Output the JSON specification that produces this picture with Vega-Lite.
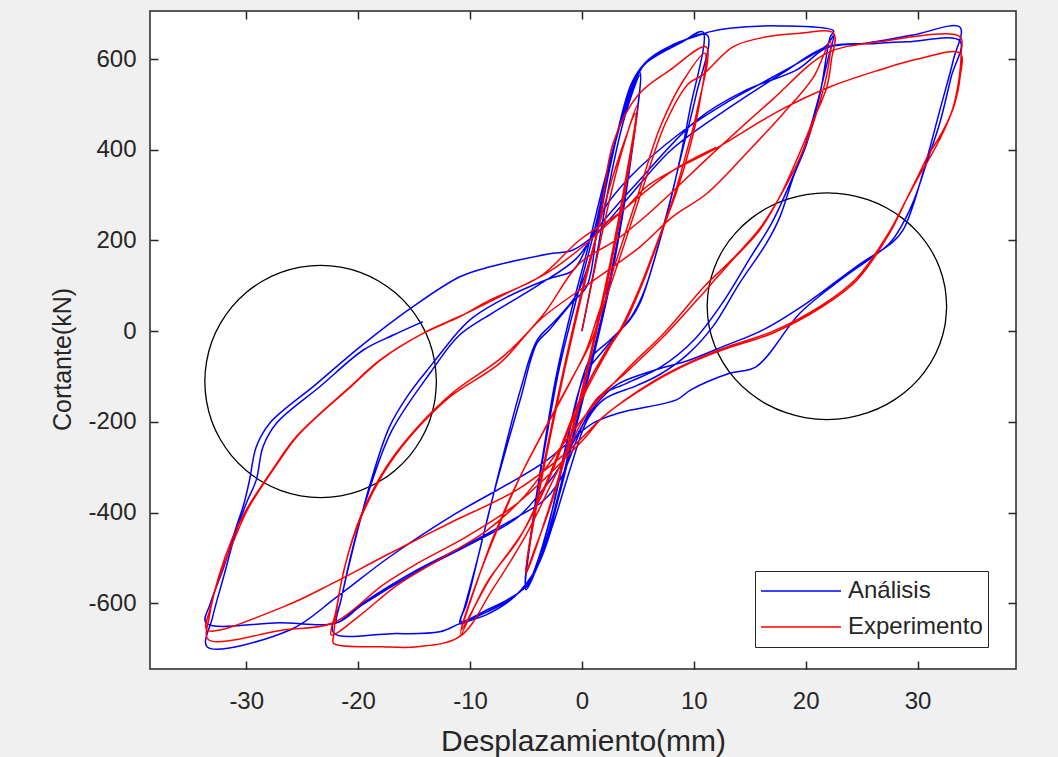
{
"$schema": "https://vega.github.io/schema/vega-lite/v6.json",
"width": 866, "height": 658,
"autosize": {"type": "none"},
"padding": {"left": 150, "top": 11, "right": 42, "bottom": 88},
"background": "#f0f0f0",
"config": {
 "view": {"fill": "white", "stroke": "#262626", "strokeWidth": 1.5},
 "font": "Liberation Sans",
 "axis": {"grid": false, "domain": false, "tickSize": 8, "offset": -8, "tickColor": "#262626", "tickWidth": 1.5, "labelColor": "#262626", "titleColor": "#262626", "labelFontSize": 24, "titleFontSize": 30, "titleFontWeight": "normal", "labelFont": "Liberation Sans", "titleFont": "Liberation Sans", "labelExpr": "replace(datum.label, '\u2212', '-')"}
},
"datasets": {
 "circ": [
  {"c":1,"x":-13.00,"y":-111},{"c":1,"x":-13.16,"y":-66.6},{"c":1,"x":-13.62,"y":-23.4},{"c":1,"x":-14.39,"y":17},{"c":1,"x":-15.42,"y":53.6},{"c":1,"x":-16.70,"y":85.1},{"c":1,"x":-18.18,"y":110.7},{"c":1,"x":-19.81,"y":129.6},{"c":1,"x":-21.55,"y":141.1},{"c":1,"x":-23.35,"y":145},{"c":1,"x":-25.15,"y":141.1},{"c":1,"x":-26.89,"y":129.6},{"c":1,"x":-28.53,"y":110.7},{"c":1,"x":-30.00,"y":85.1},{"c":1,"x":-31.28,"y":53.6},{"c":1,"x":-32.31,"y":17},{"c":1,"x":-33.08,"y":-23.4},{"c":1,"x":-33.54,"y":-66.6},{"c":1,"x":-33.70,"y":-111},{"c":1,"x":-33.54,"y":-155.4},{"c":1,"x":-33.08,"y":-198.6},{"c":1,"x":-32.31,"y":-239},{"c":1,"x":-31.28,"y":-275.6},{"c":1,"x":-30.00,"y":-307.1},{"c":1,"x":-28.53,"y":-332.7},{"c":1,"x":-26.89,"y":-351.6},{"c":1,"x":-25.15,"y":-363.1},{"c":1,"x":-23.35,"y":-367},{"c":1,"x":-21.55,"y":-363.1},{"c":1,"x":-19.81,"y":-351.6},{"c":1,"x":-18.18,"y":-332.7},{"c":1,"x":-16.70,"y":-307.1},{"c":1,"x":-15.42,"y":-275.6},{"c":1,"x":-14.39,"y":-239},{"c":1,"x":-13.62,"y":-198.6},{"c":1,"x":-13.16,"y":-155.4},{"c":1,"x":-13.00,"y":-111},
  {"c":2,"x":32.6,"y":55},{"c":2,"x":32.44,"y":98.4},{"c":2,"x":31.96,"y":140.5},{"c":2,"x":31.17,"y":180},{"c":2,"x":30.10,"y":215.7},{"c":2,"x":28.78,"y":246.5},{"c":2,"x":27.25,"y":271.5},{"c":2,"x":25.56,"y":289.9},{"c":2,"x":23.76,"y":301.2},{"c":2,"x":21.9,"y":305},{"c":2,"x":20.04,"y":301.2},{"c":2,"x":18.24,"y":289.9},{"c":2,"x":16.55,"y":271.5},{"c":2,"x":15.02,"y":246.5},{"c":2,"x":13.70,"y":215.7},{"c":2,"x":12.63,"y":180},{"c":2,"x":11.85,"y":140.5},{"c":2,"x":11.36,"y":98.4},{"c":2,"x":11.2,"y":55},{"c":2,"x":11.36,"y":11.6},{"c":2,"x":11.85,"y":-30.5},{"c":2,"x":12.63,"y":-70},{"c":2,"x":13.70,"y":-105.7},{"c":2,"x":15.02,"y":-136.5},{"c":2,"x":16.55,"y":-161.5},{"c":2,"x":18.24,"y":-179.9},{"c":2,"x":20.04,"y":-191.2},{"c":2,"x":21.9,"y":-195},{"c":2,"x":23.76,"y":-191.2},{"c":2,"x":25.56,"y":-179.9},{"c":2,"x":27.25,"y":-161.5},{"c":2,"x":28.78,"y":-136.5},{"c":2,"x":30.10,"y":-105.7},{"c":2,"x":31.17,"y":-70},{"c":2,"x":31.96,"y":-30.5},{"c":2,"x":32.44,"y":11.6},{"c":2,"x":32.6,"y":55}
 ],
 "curves": [
  {"s":"Análisis","x":0,"y":0},{"s":"Análisis","x":1.2,"y":150},{"s":"Análisis","x":2.5,"y":330},{"s":"Análisis","x":3.8,"y":470},{"s":"Análisis","x":5.2,"y":565},
  {"s":"Análisis","x":4.6,"y":420},{"s":"Análisis","x":3.6,"y":250},{"s":"Análisis","x":2.4,"y":90},{"s":"Análisis","x":1,"y":-60},{"s":"Análisis","x":-0.5,"y":-210},{"s":"Análisis","x":-2,"y":-360},{"s":"Análisis","x":-3.5,"y":-490},{"s":"Análisis","x":-5,"y":-565},
  {"s":"Análisis","x":-4.4,"y":-420},{"s":"Análisis","x":-3.4,"y":-260},{"s":"Análisis","x":-2.3,"y":-100},{"s":"Análisis","x":-1,"y":40},{"s":"Análisis","x":0.5,"y":180},{"s":"Análisis","x":2,"y":330},{"s":"Análisis","x":3.5,"y":460},{"s":"Análisis","x":5.2,"y":570},
  {"s":"Análisis","x":4.5,"y":400},{"s":"Análisis","x":3.4,"y":230},{"s":"Análisis","x":2.2,"y":80},{"s":"Análisis","x":0.8,"y":-70},{"s":"Análisis","x":-0.7,"y":-220},{"s":"Análisis","x":-2.2,"y":-370},{"s":"Análisis","x":-3.7,"y":-500},{"s":"Análisis","x":-5,"y":-570},
  {"s":"Análisis","x":-4.3,"y":-410},{"s":"Análisis","x":-3.2,"y":-240},{"s":"Análisis","x":-2,"y":-80},{"s":"Análisis","x":-0.6,"y":60},{"s":"Análisis","x":1,"y":210},{"s":"Análisis","x":2.5,"y":370},{"s":"Análisis","x":4,"y":500},{"s":"Análisis","x":5.5,"y":585},
  {"s":"Análisis","x":7,"y":612},{"s":"Análisis","x":9,"y":638},{"s":"Análisis","x":10.8,"y":660},
  {"s":"Análisis","x":9.65,"y":488},{"s":"Análisis","x":8.76,"y":378},{"s":"Análisis","x":7.4,"y":238},{"s":"Análisis","x":5.2,"y":62},{"s":"Análisis","x":4.3,"y":25},{"s":"Análisis","x":2.5,"y":-20},{"s":"Análisis","x":0.7,"y":-63},{"s":"Análisis","x":-0.8,"y":-189},{"s":"Análisis","x":-2.5,"y":-380},{"s":"Análisis","x":-4,"y":-510},{"s":"Análisis","x":-4.9,"y":-560},{"s":"Análisis","x":-7,"y":-600},{"s":"Análisis","x":-9,"y":-625},{"s":"Análisis","x":-10.9,"y":-645},
  {"s":"Análisis","x":-10.5,"y":-610},{"s":"Análisis","x":-9.3,"y":-500},{"s":"Análisis","x":-7.95,"y":-365},{"s":"Análisis","x":-5.5,"y":-150},{"s":"Análisis","x":-4,"y":-26},{"s":"Análisis","x":-2.9,"y":3},{"s":"Análisis","x":-1,"y":60},{"s":"Análisis","x":0.45,"y":100},{"s":"Análisis","x":1.5,"y":250},{"s":"Análisis","x":3,"y":420},{"s":"Análisis","x":4.5,"y":550},{"s":"Análisis","x":6,"y":600},{"s":"Análisis","x":8.5,"y":635},{"s":"Análisis","x":11.2,"y":653},
  {"s":"Análisis","x":10.2,"y":520},{"s":"Análisis","x":9,"y":400},{"s":"Análisis","x":7.6,"y":260},{"s":"Análisis","x":5.6,"y":90},{"s":"Análisis","x":4.5,"y":35},{"s":"Análisis","x":2,"y":-40},{"s":"Análisis","x":0.2,"y":-100},{"s":"Análisis","x":-1.5,"y":-260},{"s":"Análisis","x":-3,"y":-430},{"s":"Análisis","x":-4.7,"y":-555},{"s":"Análisis","x":-6.5,"y":-590},{"s":"Análisis","x":-8.5,"y":-615},{"s":"Análisis","x":-10.8,"y":-640},
  {"s":"Análisis","x":-10.3,"y":-600},{"s":"Análisis","x":-9,"y":-470},{"s":"Análisis","x":-7.5,"y":-320},{"s":"Análisis","x":-5.5,"y":-130},{"s":"Análisis","x":-4,"y":-20},{"s":"Análisis","x":-2.5,"y":20},{"s":"Análisis","x":-0.5,"y":80},{"s":"Análisis","x":1,"y":180},{"s":"Análisis","x":2.5,"y":360},{"s":"Análisis","x":4,"y":510},{"s":"Análisis","x":5.5,"y":585},{"s":"Análisis","x":8,"y":630},{"s":"Análisis","x":10.8,"y":655},{"s":"Análisis","x":11.4,"y":660},{"s":"Análisis","x":13.2,"y":668},{"s":"Análisis","x":17.7,"y":673},{"s":"Análisis","x":22.5,"y":662},
  {"s":"Análisis","x":22.2,"y":649},{"s":"Análisis","x":21.3,"y":525},{"s":"Análisis","x":20.1,"y":414},{"s":"Análisis","x":18.9,"y":340},{"s":"Análisis","x":17.7,"y":252},{"s":"Análisis","x":16.5,"y":194},{"s":"Análisis","x":14.1,"y":106},{"s":"Análisis","x":11.7,"y":10},{"s":"Análisis","x":9.5,"y":-50},{"s":"Análisis","x":7,"y":-95},{"s":"Análisis","x":4.9,"y":-120},{"s":"Análisis","x":2,"y":-150},{"s":"Análisis","x":0.5,"y":-195},{"s":"Análisis","x":-1,"y":-300},{"s":"Análisis","x":-2.5,"y":-420},{"s":"Análisis","x":-4,"y":-520},{"s":"Análisis","x":-6,"y":-585},{"s":"Análisis","x":-8.5,"y":-625},{"s":"Análisis","x":-10.9,"y":-645},{"s":"Análisis","x":-12.7,"y":-663},{"s":"Análisis","x":-17,"y":-667},{"s":"Análisis","x":-22.2,"y":-665},
  {"s":"Análisis","x":-21.6,"y":-600},{"s":"Análisis","x":-20.7,"y":-504},{"s":"Análisis","x":-18.9,"y":-335},{"s":"Análisis","x":-17.2,"y":-211},{"s":"Análisis","x":-15.5,"y":-140},{"s":"Análisis","x":-13.3,"y":-70},{"s":"Análisis","x":-10.9,"y":3},{"s":"Análisis","x":-9.7,"y":31},{"s":"Análisis","x":-6.7,"y":75},{"s":"Análisis","x":-3,"y":115},{"s":"Análisis","x":-0.8,"y":134},{"s":"Análisis","x":0.5,"y":190},{"s":"Análisis","x":2,"y":270},{"s":"Análisis","x":4.3,"y":340},{"s":"Análisis","x":8.8,"y":437},{"s":"Análisis","x":13,"y":505},{"s":"Análisis","x":17.1,"y":561},{"s":"Análisis","x":21.9,"y":631},{"s":"Análisis","x":22.5,"y":652},
  {"s":"Análisis","x":22,"y":600},{"s":"Análisis","x":21,"y":500},{"s":"Análisis","x":19.8,"y":400},{"s":"Análisis","x":18.5,"y":320},{"s":"Análisis","x":17,"y":240},{"s":"Análisis","x":15,"y":160},{"s":"Análisis","x":12.5,"y":60},{"s":"Análisis","x":10,"y":-20},{"s":"Análisis","x":7,"y":-80},{"s":"Análisis","x":4,"y":-115},{"s":"Análisis","x":1.5,"y":-145},{"s":"Análisis","x":0.2,"y":-200},{"s":"Análisis","x":-2,"y":-330},{"s":"Análisis","x":-3.5,"y":-375},{"s":"Análisis","x":-5.8,"y":-410},{"s":"Análisis","x":-10,"y":-467},{"s":"Análisis","x":-14.7,"y":-526},{"s":"Análisis","x":-19.6,"y":-600},{"s":"Análisis","x":-21.9,"y":-642},
  {"s":"Análisis","x":-21.5,"y":-590},{"s":"Análisis","x":-20.5,"y":-480},{"s":"Análisis","x":-19,"y":-350},{"s":"Análisis","x":-17,"y":-220},{"s":"Análisis","x":-13.5,"y":-90},{"s":"Análisis","x":-11,"y":-10},{"s":"Análisis","x":-8,"y":40},{"s":"Análisis","x":-4,"y":100},{"s":"Análisis","x":-0.5,"y":160},{"s":"Análisis","x":1.5,"y":230},{"s":"Análisis","x":4.9,"y":326},{"s":"Análisis","x":10.3,"y":466},{"s":"Análisis","x":14.7,"y":532},{"s":"Análisis","x":19.2,"y":576},{"s":"Análisis","x":21.9,"y":625},{"s":"Análisis","x":25.4,"y":635},{"s":"Análisis","x":29.6,"y":653},{"s":"Análisis","x":33.8,"y":670},
  {"s":"Análisis","x":33.2,"y":598},{"s":"Análisis","x":32,"y":488},{"s":"Análisis","x":30.8,"y":377},{"s":"Análisis","x":29.5,"y":270},{"s":"Análisis","x":28.7,"y":223},{"s":"Análisis","x":27.8,"y":197},{"s":"Análisis","x":24.5,"y":142},{"s":"Análisis","x":20.1,"y":62},{"s":"Análisis","x":16.2,"y":3},{"s":"Análisis","x":12.6,"y":-34},{"s":"Análisis","x":9.7,"y":-63},{"s":"Análisis","x":6,"y":-90},{"s":"Análisis","x":3,"y":-120},{"s":"Análisis","x":1,"y":-170},{"s":"Análisis","x":0,"y":-210},{"s":"Análisis","x":-2,"y":-300},{"s":"Análisis","x":-4,"y":-365},{"s":"Análisis","x":-5.8,"y":-412},{"s":"Análisis","x":-10,"y":-470},{"s":"Análisis","x":-14.7,"y":-530},{"s":"Análisis","x":-19.6,"y":-603},{"s":"Análisis","x":-21.9,"y":-643},{"s":"Análisis","x":-27,"y":-643},{"s":"Análisis","x":-33.6,"y":-643},
  {"s":"Análisis","x":-33.2,"y":-600},{"s":"Análisis","x":-32,"y":-520},{"s":"Análisis","x":-31,"y":-440},{"s":"Análisis","x":-30.2,"y":-380},{"s":"Análisis","x":-29.7,"y":-328},{"s":"Análisis","x":-29.1,"y":-255},{"s":"Análisis","x":-27.9,"y":-203},{"s":"Análisis","x":-23.8,"y":-118},{"s":"Análisis","x":-19.8,"y":-34},{"s":"Análisis","x":-15.1,"y":54},{"s":"Análisis","x":-10.9,"y":120},{"s":"Análisis","x":-8.2,"y":142},{"s":"Análisis","x":-3,"y":170},{"s":"Análisis","x":-0.8,"y":179},{"s":"Análisis","x":1.3,"y":216},{"s":"Análisis","x":4,"y":290},{"s":"Análisis","x":8,"y":400},{"s":"Análisis","x":13,"y":490},{"s":"Análisis","x":18,"y":570},{"s":"Análisis","x":21.9,"y":627},{"s":"Análisis","x":26,"y":634},{"s":"Análisis","x":29.1,"y":638},{"s":"Análisis","x":33.8,"y":640},
  {"s":"Análisis","x":33,"y":560},{"s":"Análisis","x":32,"y":460},{"s":"Análisis","x":30.8,"y":370},{"s":"Análisis","x":29.7,"y":290},{"s":"Análisis","x":28.7,"y":238},{"s":"Análisis","x":27.5,"y":194},{"s":"Análisis","x":23.1,"y":113},{"s":"Análisis","x":19.5,"y":40},{"s":"Análisis","x":15.6,"y":-78},{"s":"Análisis","x":13.2,"y":-93},{"s":"Análisis","x":9.7,"y":-130},{"s":"Análisis","x":8.5,"y":-151},{"s":"Análisis","x":3.4,"y":-180},{"s":"Análisis","x":1,"y":-203},{"s":"Análisis","x":-3.5,"y":-291},{"s":"Análisis","x":-11.8,"y":-410},{"s":"Análisis","x":-17.2,"y":-498},{"s":"Análisis","x":-21.9,"y":-586},{"s":"Análisis","x":-26.1,"y":-659},{"s":"Análisis","x":-33.5,"y":-696},
  {"s":"Análisis","x":-33,"y":-630},{"s":"Análisis","x":-32,"y":-540},{"s":"Análisis","x":-31,"y":-450},{"s":"Análisis","x":-30,"y":-380},{"s":"Análisis","x":-29.1,"y":-328},{"s":"Análisis","x":-28.5,"y":-255},{"s":"Análisis","x":-27.3,"y":-203},{"s":"Análisis","x":-23.4,"y":-122},{"s":"Análisis","x":-19.5,"y":-41},{"s":"Análisis","x":-16.8,"y":-8},{"s":"Análisis","x":-14.2,"y":21},

  {"s":"Experimento","x":0,"y":0},{"s":"Experimento","x":1,"y":120},{"s":"Experimento","x":2.2,"y":260},{"s":"Experimento","x":3.5,"y":390},{"s":"Experimento","x":5,"y":500},
  {"s":"Experimento","x":4,"y":330},{"s":"Experimento","x":2.8,"y":170},{"s":"Experimento","x":1.5,"y":20},{"s":"Experimento","x":0,"y":-140},{"s":"Experimento","x":-1.5,"y":-280},{"s":"Experimento","x":-3,"y":-400},{"s":"Experimento","x":-4.2,"y":-480},{"s":"Experimento","x":-5,"y":-530},
  {"s":"Experimento","x":-4,"y":-370},{"s":"Experimento","x":-2.8,"y":-220},{"s":"Experimento","x":-1.5,"y":-70},{"s":"Experimento","x":0,"y":90},{"s":"Experimento","x":1.5,"y":230},{"s":"Experimento","x":3,"y":360},{"s":"Experimento","x":4.8,"y":480},
  {"s":"Experimento","x":3.8,"y":320},{"s":"Experimento","x":2.6,"y":160},{"s":"Experimento","x":1.3,"y":10},{"s":"Experimento","x":-0.2,"y":-150},{"s":"Experimento","x":-1.7,"y":-290},{"s":"Experimento","x":-3.2,"y":-410},{"s":"Experimento","x":-5,"y":-535},
  {"s":"Experimento","x":-4,"y":-380},{"s":"Experimento","x":-2.8,"y":-230},{"s":"Experimento","x":-1.5,"y":-80},{"s":"Experimento","x":0,"y":80},{"s":"Experimento","x":1.5,"y":230},{"s":"Experimento","x":2.8,"y":415},{"s":"Experimento","x":5,"y":520},{"s":"Experimento","x":7.9,"y":576},{"s":"Experimento","x":11.1,"y":627},
  {"s":"Experimento","x":10.3,"y":487},{"s":"Experimento","x":9.4,"y":399},{"s":"Experimento","x":8.2,"y":296},{"s":"Experimento","x":6.7,"y":194},{"s":"Experimento","x":5.2,"y":98},{"s":"Experimento","x":3.4,"y":3},{"s":"Experimento","x":2.2,"y":-41},{"s":"Experimento","x":-0.2,"y":-152},{"s":"Experimento","x":-2,"y":-262},{"s":"Experimento","x":-3.2,"y":-335},{"s":"Experimento","x":-5.5,"y":-453},{"s":"Experimento","x":-8.5,"y":-555},{"s":"Experimento","x":-10.9,"y":-673},
  {"s":"Experimento","x":-9.4,"y":-555},{"s":"Experimento","x":-7.9,"y":-453},{"s":"Experimento","x":-5.8,"y":-335},{"s":"Experimento","x":-3.5,"y":-225},{"s":"Experimento","x":-1.1,"y":-115},{"s":"Experimento","x":0.4,"y":-41},{"s":"Experimento","x":1.5,"y":40},{"s":"Experimento","x":3,"y":150},{"s":"Experimento","x":5,"y":300},{"s":"Experimento","x":7,"y":450},{"s":"Experimento","x":9,"y":550},{"s":"Experimento","x":11,"y":613},
  {"s":"Experimento","x":10.5,"y":500},{"s":"Experimento","x":9.7,"y":410},{"s":"Experimento","x":8.5,"y":310},{"s":"Experimento","x":7,"y":210},{"s":"Experimento","x":5.5,"y":110},{"s":"Experimento","x":3.8,"y":15},{"s":"Experimento","x":2.5,"y":-35},{"s":"Experimento","x":0.2,"y":-140},{"s":"Experimento","x":-1.7,"y":-250},{"s":"Experimento","x":-3,"y":-330},{"s":"Experimento","x":-5.2,"y":-440},{"s":"Experimento","x":-8.2,"y":-545},{"s":"Experimento","x":-10.8,"y":-660},
  {"s":"Experimento","x":-9.2,"y":-540},{"s":"Experimento","x":-7.6,"y":-440},{"s":"Experimento","x":-5.5,"y":-320},{"s":"Experimento","x":-3.2,"y":-210},{"s":"Experimento","x":-0.8,"y":-100},{"s":"Experimento","x":0.7,"y":-30},{"s":"Experimento","x":2,"y":60},{"s":"Experimento","x":3.5,"y":170},{"s":"Experimento","x":5.5,"y":320},{"s":"Experimento","x":7.5,"y":460},{"s":"Experimento","x":9.5,"y":545},{"s":"Experimento","x":10.8,"y":565},{"s":"Experimento","x":13.5,"y":627},{"s":"Experimento","x":16.5,"y":649},{"s":"Experimento","x":19.5,"y":657},{"s":"Experimento","x":22.5,"y":657},
  {"s":"Experimento","x":22.3,"y":598},{"s":"Experimento","x":21.9,"y":539},{"s":"Experimento","x":20.7,"y":466},{"s":"Experimento","x":19.2,"y":378},{"s":"Experimento","x":17.7,"y":297},{"s":"Experimento","x":15.9,"y":223},{"s":"Experimento","x":13.2,"y":150},{"s":"Experimento","x":11.1,"y":91},{"s":"Experimento","x":7.3,"y":-12},{"s":"Experimento","x":4,"y":-90},{"s":"Experimento","x":1,"y":-160},{"s":"Experimento","x":-2,"y":-300},{"s":"Experimento","x":-5,"y":-450},{"s":"Experimento","x":-8,"y":-570},{"s":"Experimento","x":-10.9,"y":-673},{"s":"Experimento","x":-14.7,"y":-696},{"s":"Experimento","x":-17.8,"y":-696},{"s":"Experimento","x":-22.2,"y":-688},
  {"s":"Experimento","x":-22.2,"y":-673},{"s":"Experimento","x":-21.4,"y":-542},{"s":"Experimento","x":-20.1,"y":-433},{"s":"Experimento","x":-17.8,"y":-316},{"s":"Experimento","x":-15.4,"y":-234},{"s":"Experimento","x":-11.8,"y":-145},{"s":"Experimento","x":-7.3,"y":-70},{"s":"Experimento","x":-3.75,"y":25},{"s":"Experimento","x":0.7,"y":106},{"s":"Experimento","x":5.2,"y":186},{"s":"Experimento","x":8.1,"y":252},{"s":"Experimento","x":11.2,"y":304},{"s":"Experimento","x":15,"y":400},{"s":"Experimento","x":18,"y":480},{"s":"Experimento","x":20.7,"y":560},{"s":"Experimento","x":22.2,"y":640},
  {"s":"Experimento","x":22,"y":580},{"s":"Experimento","x":21.2,"y":500},{"s":"Experimento","x":19.8,"y":400},{"s":"Experimento","x":18,"y":310},{"s":"Experimento","x":16,"y":230},{"s":"Experimento","x":13.5,"y":160},{"s":"Experimento","x":11,"y":100},{"s":"Experimento","x":7.5,"y":0},{"s":"Experimento","x":4,"y":-85},{"s":"Experimento","x":1,"y":-165},{"s":"Experimento","x":-2,"y":-260},{"s":"Experimento","x":-5,"y":-360},{"s":"Experimento","x":-8.5,"y":-440},{"s":"Experimento","x":-12.5,"y":-500},{"s":"Experimento","x":-16.5,"y":-560},{"s":"Experimento","x":-20,"y":-630},{"s":"Experimento","x":-22.4,"y":-670},
  {"s":"Experimento","x":-22,"y":-620},{"s":"Experimento","x":-21.2,"y":-520},{"s":"Experimento","x":-19.8,"y":-410},{"s":"Experimento","x":-17.5,"y":-300},{"s":"Experimento","x":-15,"y":-220},{"s":"Experimento","x":-11.5,"y":-135},{"s":"Experimento","x":-7,"y":-55},{"s":"Experimento","x":-3.5,"y":35},{"s":"Experimento","x":-0.2,"y":150},{"s":"Experimento","x":3,"y":200},{"s":"Experimento","x":6,"y":260},{"s":"Experimento","x":11.7,"y":392},{"s":"Experimento","x":17,"y":510},{"s":"Experimento","x":21.9,"y":613},{"s":"Experimento","x":26.6,"y":638},{"s":"Experimento","x":33.8,"y":649},
  {"s":"Experimento","x":33.9,"y":613},{"s":"Experimento","x":33.6,"y":540},{"s":"Experimento","x":33,"y":480},{"s":"Experimento","x":32,"y":430},{"s":"Experimento","x":31,"y":390},{"s":"Experimento","x":30,"y":340},{"s":"Experimento","x":29,"y":290},{"s":"Experimento","x":27.5,"y":216},{"s":"Experimento","x":24.6,"y":113},{"s":"Experimento","x":21.5,"y":54},{"s":"Experimento","x":17.1,"y":-4},{"s":"Experimento","x":12.6,"y":-41},{"s":"Experimento","x":9.7,"y":-70},{"s":"Experimento","x":6.3,"y":-114},{"s":"Experimento","x":1.9,"y":-189},{"s":"Experimento","x":0.1,"y":-240},{"s":"Experimento","x":-5.8,"y":-380},{"s":"Experimento","x":-10.3,"y":-453},{"s":"Experimento","x":-14.7,"y":-512},{"s":"Experimento","x":-17.8,"y":-560},{"s":"Experimento","x":-22.2,"y":-643},{"s":"Experimento","x":-26.7,"y":-659},{"s":"Experimento","x":-33.4,"y":-680},
  {"s":"Experimento","x":-33.3,"y":-630},{"s":"Experimento","x":-32.5,"y":-545},{"s":"Experimento","x":-31.3,"y":-460},{"s":"Experimento","x":-30,"y":-394},{"s":"Experimento","x":-27.5,"y":-300},{"s":"Experimento","x":-25.5,"y":-232},{"s":"Experimento","x":-21,"y":-129},{"s":"Experimento","x":-18,"y":-63},{"s":"Experimento","x":-14.2,"y":-5},{"s":"Experimento","x":-10.9,"y":32},{"s":"Experimento","x":-8.2,"y":69},{"s":"Experimento","x":-3.75,"y":120},{"s":"Experimento","x":-0.2,"y":201},{"s":"Experimento","x":3.7,"y":267},{"s":"Experimento","x":5.8,"y":319},{"s":"Experimento","x":8.2,"y":355},{"s":"Experimento","x":11.7,"y":399},{"s":"Experimento","x":17.7,"y":487},{"s":"Experimento","x":22.2,"y":539},{"s":"Experimento","x":26.6,"y":576},{"s":"Experimento","x":30,"y":600},{"s":"Experimento","x":33.8,"y":613},
  {"s":"Experimento","x":33.8,"y":560},{"s":"Experimento","x":33.3,"y":500},{"s":"Experimento","x":32.5,"y":450},{"s":"Experimento","x":31.5,"y":400},{"s":"Experimento","x":30.2,"y":345},{"s":"Experimento","x":29,"y":290},{"s":"Experimento","x":27.5,"y":220},{"s":"Experimento","x":24.6,"y":118},{"s":"Experimento","x":21.5,"y":58},{"s":"Experimento","x":17.1,"y":0},{"s":"Experimento","x":12.6,"y":-38},{"s":"Experimento","x":9.7,"y":-68},{"s":"Experimento","x":6.3,"y":-112},{"s":"Experimento","x":1.9,"y":-189},{"s":"Experimento","x":0.7,"y":-218},{"s":"Experimento","x":-1.5,"y":-270},{"s":"Experimento","x":-5.8,"y":-350},{"s":"Experimento","x":-11.8,"y":-423},{"s":"Experimento","x":-17.8,"y":-498},{"s":"Experimento","x":-22.2,"y":-555},{"s":"Experimento","x":-26.7,"y":-608},{"s":"Experimento","x":-33.5,"y":-659},
  {"s":"Experimento","x":-33.2,"y":-610},{"s":"Experimento","x":-32.3,"y":-535},{"s":"Experimento","x":-31,"y":-455},{"s":"Experimento","x":-29.8,"y":-390},{"s":"Experimento","x":-27.3,"y":-295},{"s":"Experimento","x":-25.3,"y":-228},{"s":"Experimento","x":-20.8,"y":-126},{"s":"Experimento","x":-17.8,"y":-60},{"s":"Experimento","x":-14,"y":-2},{"s":"Experimento","x":-10.7,"y":35},{"s":"Experimento","x":-7,"y":80},{"s":"Experimento","x":-3,"y":130},{"s":"Experimento","x":0,"y":185},{"s":"Experimento","x":3.7,"y":267},{"s":"Experimento","x":8.2,"y":355},{"s":"Experimento","x":12,"y":405}
 ]
},
"resolve": {"axis": {"x": "independent", "y": "independent"}},
"layer": [
 {
  "data": {"name": "circ"},
  "mark": {"type": "line", "color": "black", "strokeWidth": 1.3, "interpolate": "catmull-rom"},
  "encoding": {
   "x": {"field": "x", "type": "quantitative", "scale": {"domain": [-38.6, 38.8], "nice": false, "zero": false},
         "axis": {"orient": "top", "values": [-30, -20, -10, 0, 10, 20, 30], "labels": false, "title": null}},
   "y": {"field": "y", "type": "quantitative", "scale": {"domain": [-745, 706], "nice": false, "zero": false},
         "axis": {"orient": "right", "values": [-600, -400, -200, 0, 200, 400, 600], "labels": false, "title": null}},
   "detail": {"field": "c", "type": "nominal"},
   "order": {"value": null}
  }
 },
 {
  "data": {"name": "curves"},
  "mark": {"type": "line", "strokeWidth": 1.5, "clip": true, "interpolate": "catmull-rom"},
  "encoding": {
   "x": {"field": "x", "type": "quantitative", "scale": {"domain": [-38.6, 38.8], "nice": false, "zero": false},
         "axis": {"orient": "bottom", "values": [-30, -20, -10, 0, 10, 20, 30], "title": "Desplazamiento(mm)", "labelPadding": 20, "titlePadding": 13}},
   "y": {"field": "y", "type": "quantitative", "scale": {"domain": [-745, 706], "nice": false, "zero": false},
         "axis": {"orient": "left", "values": [-600, -400, -200, 0, 200, 400, 600], "title": "Cortante(kN)", "labelPadding": 14, "titlePadding": 12, "titleFontSize": 25, "titleY": 348}},
   "color": {"field": "s", "type": "nominal",
     "scale": {"domain": ["Análisis", "Experimento"], "range": ["#0000ff", "#ff0000"]},
     "legend": {"title": null, "orient": "none", "legendX": 605, "legendY": 560, "symbolType": "stroke", "symbolSize": 6400, "symbolStrokeWidth": 1.5, "clipHeight": 30, "rowPadding": 6, "padding": 5, "labelOffset": 6, "labelFontSize": 24, "labelColor": "#262626", "labelFont": "Liberation Sans", "strokeColor": "#262626", "fillColor": "white"}},
   "order": {"value": null}
  }
 }
]
}
